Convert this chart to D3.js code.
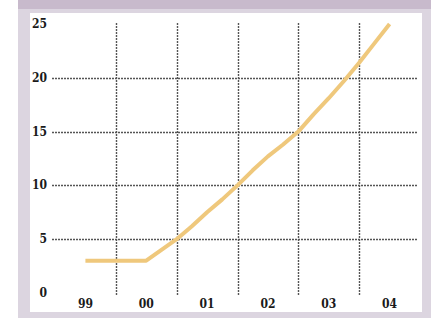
<!DOCTYPE html>
<html>
<head>
<meta charset="utf-8">
<script src="https://cdn.jsdelivr.net/npm/d3@7"></script>
<style>
  html, body { margin: 0; padding: 0; background: #ffffff; }
  svg { display: block; }
  text { font-family: "DejaVu Serif Condensed", "DejaVu Serif", serif; font-weight: bold; fill: #1a1a1a; }
</style>
</head>
<body>
<svg id="chart" width="431" height="320"></svg>
<script>
// ---- data ----
const times  = [1999.5, 1999.75, 2000.0, 2000.25, 2000.5, 2000.75, 2001.0, 2001.25, 2001.5, 2001.75,
                2002.0, 2002.25, 2002.5, 2002.75, 2003.0, 2003.25, 2003.5, 2003.75, 2004.0, 2004.25, 2004.5];
const values = [3, 3, 3, 3, 3, 4, 5, 6.2, 7.5, 8.7,
                10, 11.4, 12.7, 13.8, 15, 16.6, 18.1, 19.7, 21.4, 23.2, 25];
const yTicks = [0, 5, 10, 15, 20, 25];
const yearLabels = ["99", "00", "01", "02", "03", "04"];
const yearStarts = [1999, 2000, 2001, 2002, 2003, 2004];
const gridYears  = [2000, 2001, 2002, 2003, 2004];

const svg = d3.select("#chart");

// frame
svg.append("rect").attr("x", 18).attr("y", 0).attr("width", 413).attr("height", 318).attr("fill", "#dcd5e0");
svg.append("rect").attr("x", 18).attr("y", 0).attr("width", 413).attr("height", 9).attr("fill", "#c8bacc");
svg.append("rect").attr("x", 30).attr("y", 13).attr("width", 392).attr("height", 299).attr("fill", "#ffffff");

const x = d3.scaleLinear().domain([1999, 2005]).range([55, 420]);
const y = d3.scaleLinear().domain([0, 25]).range([293, 24]);

const gridColor = "#555";
// horizontal grid
svg.append("g").selectAll("line").data(yTicks.filter(d => d > 0 && d < 25)).join("line")
  .attr("x1", 52).attr("x2", 417)
  .attr("y1", d => Math.round(y(d)) + 0.5).attr("y2", d => Math.round(y(d)) + 0.5)
  .attr("stroke", gridColor).attr("stroke-width", 1.4).attr("stroke-dasharray", "2,1");

// vertical grid
svg.append("g").selectAll("line").data(gridYears).join("line")
  .attr("x1", d => Math.round(x(d)) + 0.5).attr("x2", d => Math.round(x(d)) + 0.5)
  .attr("y1", 23).attr("y2", 295)
  .attr("stroke", gridColor).attr("stroke-width", 1.4).attr("stroke-dasharray", "2,1");

// y labels
svg.append("g").selectAll("text").data(yTicks).join("text")
  .attr("x", 47).attr("y", d => y(d) + 4)
  .attr("text-anchor", "end").attr("font-size", 12)
  .text(d => d);

// x labels
svg.append("g").selectAll("text").data(yearStarts).join("text")
  .attr("x", d => x(d + 0.5)).attr("y", 308)
  .attr("text-anchor", "middle").attr("font-size", 12)
  .text((d, i) => yearLabels[i]);

// line
const line = d3.line().x((d, i) => x(times[i])).y(d => y(d));
svg.append("path").datum(values)
  .attr("d", line)
  .attr("fill", "none").attr("stroke", "#efc87c").attr("stroke-width", 4)
  .attr("stroke-linejoin", "round").attr("stroke-linecap", "butt");
</script>
</body>
</html>
